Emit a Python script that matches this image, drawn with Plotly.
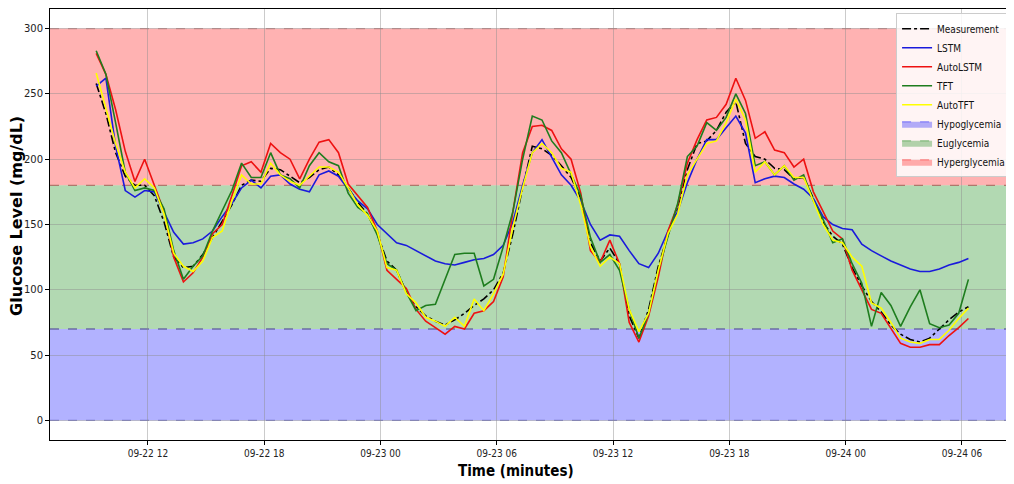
import pandas as pd
import plotly.graph_objects as go

# ---- data (30-minute samples) ----
start_time = "2022-09-22 09:20"

measurement = [258, 235, 205, 187, 180, 180, 172, 152, 125, 117, 118, 127, 140, 152, 165, 180, 184, 183,
               193, 192, 187, 182, 186, 192, 194, 188, 178, 167, 158, 143, 122, 115,
               98, 87, 80, 76, 73, 77, 82, 88, 93, 100, 113,
               143, 178, 210, 208,
               203, 195, 186, 170, 136, 122, 132, 120,
               80, 63, 85, 118, 142, 163, 192, 212, 214, 222, 236, 244, 212, 202, 200, 193, 192,
               185,
               186, 170, 152, 141, 135, 117, 103, 91, 83, 73, 66, 62, 60, 63, 70, 77, 83, 87]

lstm = [256, 262, 210, 176, 171, 176, 175, 160, 144, 135, 136, 139, 145, 156, 166, 178, 184, 178,
        187, 188, 181, 177, 175, 188, 191, 187, 177, 168, 162, 150, 143,
        136, 134, 130, 126, 122, 120, 119, 121, 123, 124, 127, 134, 152, 180, 205, 215, 202, 188, 180, 168, 150, 138, 142, 141,
        130, 120, 117, 128, 145, 160, 182, 200, 215, 215, 224, 233, 220, 182, 185, 187, 186, 181,
        177, 170, 156, 150, 147, 146, 135, 130, 126, 122, 119, 116, 114, 114, 116, 119, 121, 124]

auto_lstm = [281, 265, 238, 206, 183, 200, 180, 160, 125, 106, 113, 125, 143, 150, 172, 195, 198, 190,
             212, 205, 200, 185, 200, 213, 215, 205, 181, 172, 163, 145, 115,
             108, 101, 85, 76, 71, 66, 72, 70, 82, 84, 91, 110, 160, 205, 225, 226,
             222, 208, 200, 174, 130, 121, 138, 120,
             75, 60, 80, 110, 145, 165, 197, 215, 230, 232, 242, 262, 245, 216, 221, 207, 205, 194,
             200, 175, 160, 145, 139, 115, 100, 85, 82, 70, 59, 56, 56, 58, 58, 65, 71, 78]

tft = [283, 265, 228, 190, 176, 178, 176, 162, 130, 108, 118, 126, 145, 160, 176, 197, 186, 186,
       205, 188, 185, 178, 195, 205, 198, 195, 174, 163, 158, 142, 120, 115,
       98, 84, 88, 89, 108, 127, 128, 128, 103, 108, 133, 160, 200, 233, 230,
       214, 205, 188, 172, 140, 121, 127, 115,
       85, 63, 82, 115, 141, 166, 202, 210, 228, 222, 232, 250, 235, 195, 198, 188, 195, 184,
       188, 168, 154, 136, 139, 120, 105, 72, 98, 88, 72, 87, 100, 74, 71, 73, 82, 108]

auto_tft = [266, 240, 212, 190, 178, 185, 178, 158, 128, 118, 114, 122, 140, 145, 168, 188, 181, 181,
            197, 188, 183, 180, 187, 194, 194, 190, 178, 165, 157, 145, 117, 115, 97, 90, 79, 76, 72,
            79, 72, 93, 84, 97, 112, 148, 178, 205, 212, 205, 193, 190, 165, 133, 118, 125, 120,
            85, 68, 82, 115, 143, 158, 188, 200, 212, 214, 228, 246, 230, 190, 198, 188, 195, 186,
            186, 168, 150, 138, 136, 125, 118, 90, 86, 75, 63, 60, 59, 62, 62, 69, 78, 86]

zone_names = ["Hypoglycemia", "Euglycemia", "Hyperglycemia"]
zone_bounds = [(0, 70), (70, 180), (180, 300)]

y_ticks = [0, 50, 100, 150, 200, 250, 300]
x_ticks = ["2022-09-22 12:00", "2022-09-22 18:00", "2022-09-23 00:00", "2022-09-23 06:00",
           "2022-09-23 12:00", "2022-09-23 18:00", "2022-09-24 00:00", "2022-09-24 06:00"]
x_tick_labels = ["09-22 12", "09-22 18", "09-23 00", "09-23 06",
                 "09-23 12", "09-23 18", "09-24 00", "09-24 06"]
x_title = "Time (minutes)"
y_title = "Glucose Level (mg/dL)"

times = pd.date_range(start_time, periods=len(measurement), freq="30min")

# ---- styles ----
FONT = "DejaVu Sans"
NARROW = "DejaVu Sans Condensed, DejaVu Sans"
zone_fill = ["rgba(0,0,255,0.3)", "rgba(0,128,0,0.3)", "rgba(255,0,0,0.3)"]

fig = go.Figure()

series = [
    ("Measurement", measurement, dict(color="black", width=1.6, dash="dashdot")),
    ("LSTM", lstm, dict(color="#1a1adc", width=1.6)),
    ("AutoLSTM", auto_lstm, dict(color="#ee1111", width=1.6)),
    ("TFT", tft, dict(color="#1e7d1e", width=1.6)),
    ("AutoTFT", auto_tft, dict(color="#ffff00", width=1.6)),
]
for name, vals, line in series:
    fig.add_trace(go.Scatter(x=times, y=vals, mode="lines", name=name, line=line))

for name, fill in zip(zone_names, zone_fill):
    fig.add_trace(go.Scatter(x=[None], y=[None], mode="lines", name=name, fill="toself",
                             fillcolor=fill, line=dict(color=fill, width=1.5, dash="dash")))

# zone bands
for (lo, hi), fill in zip(zone_bounds, zone_fill):
    fig.add_shape(type="rect", xref="paper", yref="y", x0=0, x1=1, y0=lo, y1=hi,
                  fillcolor=fill, line=dict(width=0), layer="below")
edge_colors = {0: "rgba(120,120,210,0.9)", 70: "rgba(100,100,160,0.9)",
               180: "rgba(170,110,100,0.9)", 300: "rgba(200,130,130,0.9)"}
for yv, col in edge_colors.items():
    fig.add_shape(type="line", xref="paper", yref="y", x0=0, x1=1, y0=yv, y1=yv,
                  line=dict(color=col, width=1.3, dash="dash"), layer="below")

# axis titles
fig.add_annotation(text="<b>" + x_title + "</b>", xref="paper", yref="paper", x=0.484, y=0,
                   yshift=-31, xanchor="center", yanchor="middle", showarrow=False,
                   font=dict(family=NARROW, size=15, color="black"))
fig.add_annotation(text="<b>" + y_title + "</b>", xref="paper", yref="paper", x=0, y=0.52,
                   xshift=-33, xanchor="center", yanchor="middle", textangle=-90, showarrow=False,
                   font=dict(family=FONT, size=16, color="black"))

# the page adds an 8px body margin, so the figure is 8px smaller than the window
fig.update_layout(
    width=1006, height=476,
    margin=dict(l=42, r=1, t=1, b=44, autoexpand=False),
    paper_bgcolor="white", plot_bgcolor="white",
    font=dict(family=FONT, size=10, color="#222222"),
    showlegend=True,
    legend=dict(x=0.998, y=0.99, xanchor="right", yanchor="top",
                bgcolor="rgba(255,255,255,0.85)", bordercolor="#cccccc", borderwidth=1,
                font=dict(family=NARROW, size=10, color="#111111"),
                itemwidth=30, tracegroupgap=0),
)

fig.update_xaxes(
    range=["2022-09-22 06:57", "2022-09-24 08:38"],
    tickvals=x_ticks, ticktext=x_tick_labels,
    automargin=False,
    showgrid=True, gridcolor="rgba(140,140,140,0.45)", gridwidth=1,
    showline=True, linecolor="black", linewidth=1, mirror=True,
    ticks="outside", ticklen=4, tickcolor="black",
    tickfont=dict(family=NARROW, size=10, color="#222222"),
    zeroline=False,
)
fig.update_yaxes(
    range=[-15, 315],
    tickvals=y_ticks,
    automargin=False,
    showgrid=True, gridcolor="rgba(140,140,140,0.45)", gridwidth=1,
    showline=True, linecolor="black", linewidth=1, mirror=True,
    ticks="outside", ticklen=4, tickcolor="black",
    tickfont=dict(family=FONT, size=10, color="#222222"),
    zeroline=False,
)

fig.write_html("out.html")
